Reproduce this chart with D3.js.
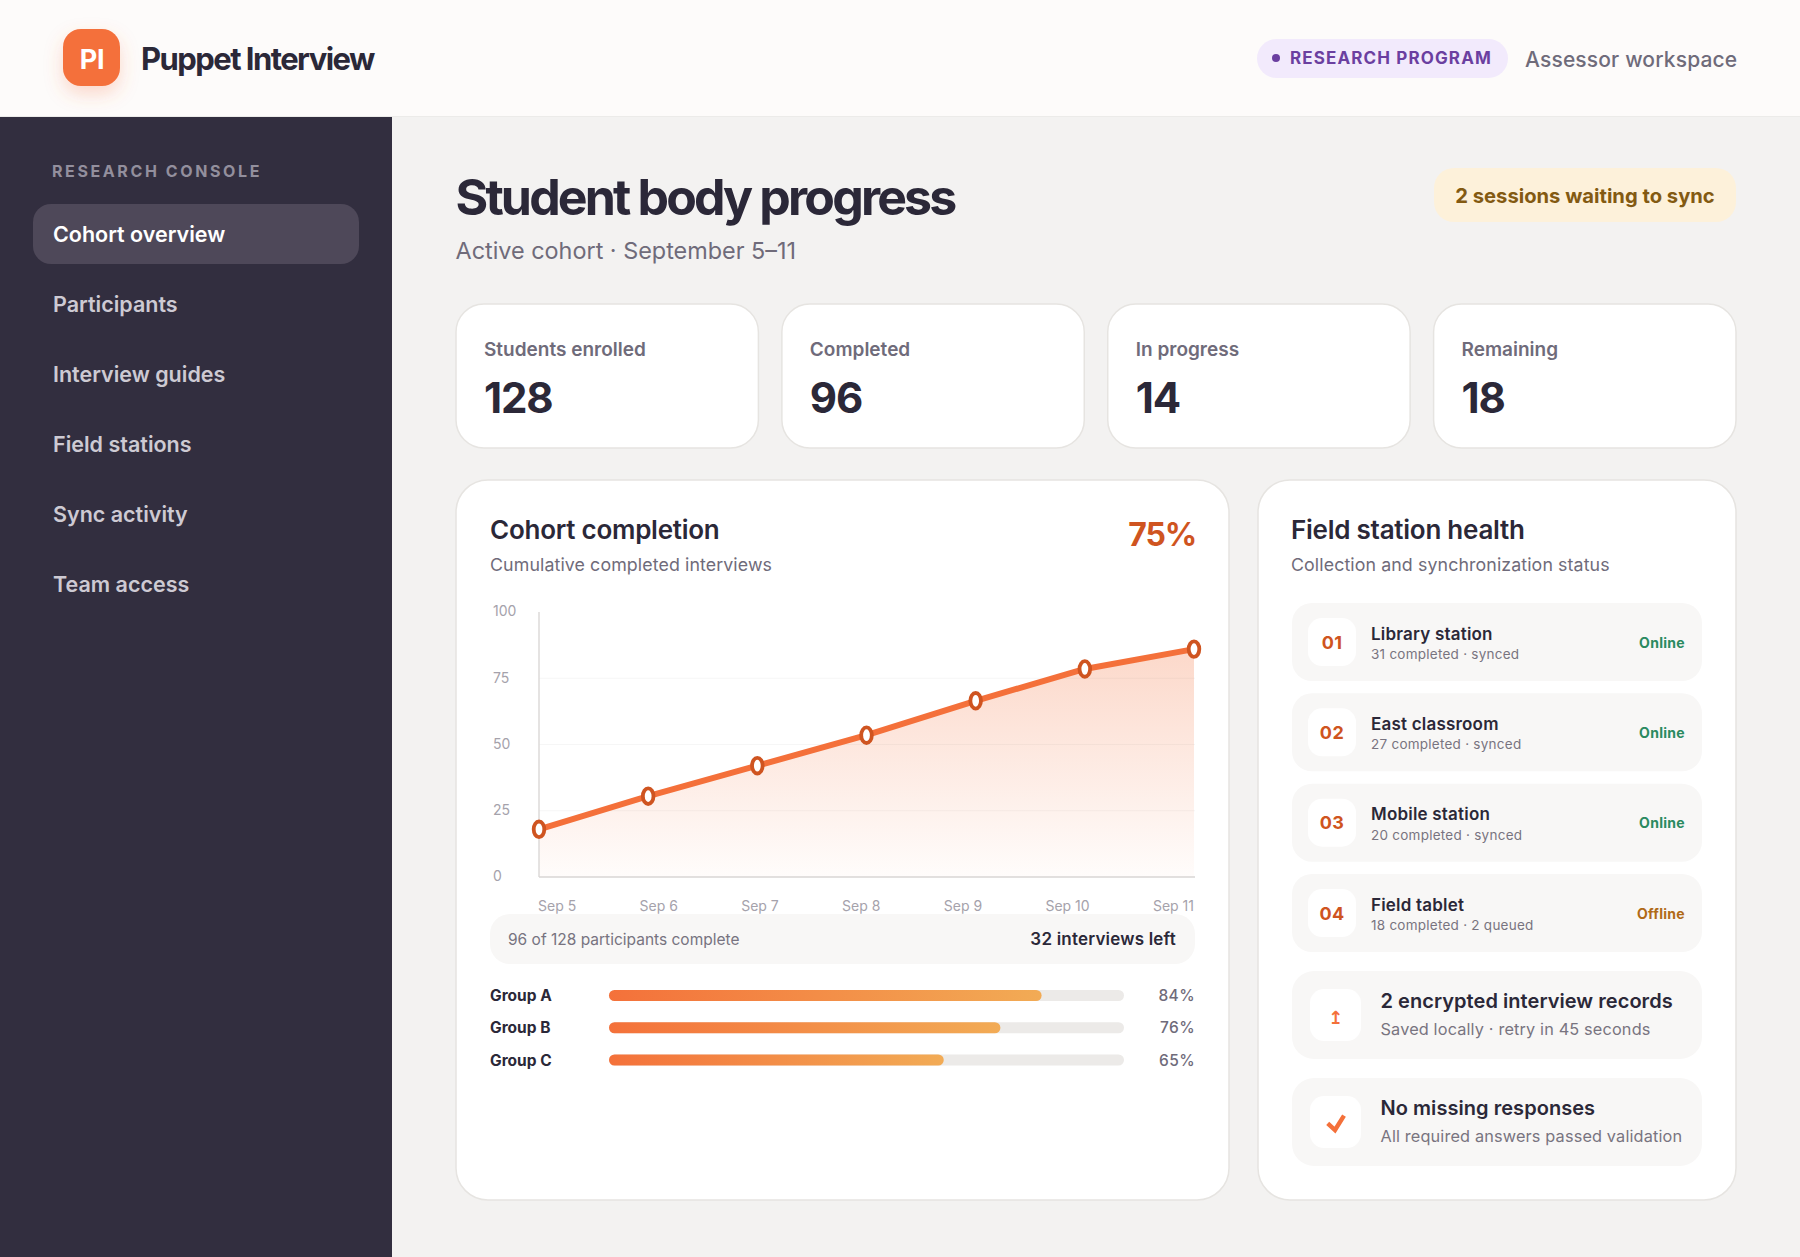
<!DOCTYPE html>
<html>
<head>
<meta charset="utf-8">
<title>Puppet Interview</title>
<script src="https://cdn.jsdelivr.net/npm/d3@7"></script>
<style>
  html, body { margin: 0; padding: 0; background: #f3f2f1; overflow: hidden; }
  svg { display: block; font-family: Inter, "Noto Sans", sans-serif; }
</style>
</head>
<body>
<svg id="page" width="1800" height="1257"></svg>
<script>
// nav + top cards
const navItems = ['Cohort overview', 'Participants', 'Interview guides', 'Field stations', 'Sync activity', 'Team access'];
const kpiLabels = ['Students enrolled', 'Completed', 'In progress', 'Remaining'];
const kpiValues = [128, 96, 14, 18];

// cumulative completion chart
const days = ['Sep 5', 'Sep 6', 'Sep 7', 'Sep 8', 'Sep 9', 'Sep 10', 'Sep 11'];
const completed = [18, 30.5, 42, 53.5, 66.5, 78.5, 86];
const yTicks = [0, 25, 50, 75, 100];

// group bars
const groups = ['Group A', 'Group B', 'Group C'];
const groupPct = [84, 76, 65];

// field stations
const stationIds = ['01', '02', '03', '04'];
const stationNames = ['Library station', 'East classroom', 'Mobile station', 'Field tablet'];
const stationNotes = ['31 completed · synced', '27 completed · synced', '20 completed · synced', '18 completed · 2 queued'];
const stationStatus = ['Online', 'Online', 'Online', 'Offline'];

const noticeTitles = ['2 encrypted interview records', 'No missing responses'];
const noticeNotes = ['Saved locally · retry in 45 seconds', 'All required answers passed validation'];

const ink = '#2b2838', grey = '#6f6b7a', orange = '#f4703a', rust = '#cf5420';

const svg = d3.select('#page');
const defs = svg.append('defs');

const shadow = defs.append('filter').attr('id', 'logoShadow')
    .attr('x', '-50%').attr('y', '-50%').attr('width', '200%').attr('height', '200%');
shadow.append('feDropShadow').attr('dx', 0).attr('dy', 8).attr('stdDeviation', 9)
    .attr('flood-color', orange).attr('flood-opacity', 0.25);

const addText = (parent, str, x, y, size, weight, fill, spacing, anchor) => {
  return parent.append('text')
      .attr('x', x)
      .attr('y', y)
      .attr('font-size', size)
      .attr('font-weight', weight)
      .attr('fill', fill)
      .attr('letter-spacing', spacing || 0)
      .attr('text-anchor', anchor || 'start')
      .text(str);
};

const addBox = (parent, x, y, w, h, r, fill, stroke) => {
  return parent.append('rect')
      .attr('x', x).attr('y', y)
      .attr('width', w).attr('height', h)
      .attr('rx', r)
      .attr('fill', fill)
      .attr('stroke', stroke || 'none')
      .attr('stroke-width', stroke ? 1.5 : 0);
};

// page background, header, sidebar
svg.append('rect').attr('width', 1800).attr('height', 1257).attr('fill', '#f3f2f1');
svg.append('rect').attr('width', 1800).attr('height', 117).attr('fill', '#fdfbfa');
svg.append('rect').attr('y', 116).attr('width', 1800).attr('height', 1).attr('fill', '#ecebe9');
svg.append('rect').attr('y', 117).attr('width', 392).attr('height', 1140).attr('fill', '#322e3f');

addBox(svg, 63, 29, 57, 57, 18, orange).attr('filter', 'url(#logoShadow)');
addText(svg, 'PI', 92, 69, 27, 700, '#fff', -0.3, 'middle');
addText(svg, 'Puppet Interview', 141, 70, 31, 700, ink, -1.55);

addBox(svg, 1257, 39, 251, 39, 19.5, '#f2eafc');
svg.append('circle').attr('cx', 1276).attr('cy', 58).attr('r', 4).attr('fill', '#6b3fa0');
addText(svg, 'RESEARCH PROGRAM', 1290, 64, 17, 700, '#6b3fa0', 1.13);
addText(svg, 'Assessor workspace', 1525, 66.5, 21, 500, grey, 0.15);

addText(svg, 'RESEARCH CONSOLE', 52, 177, 16, 700, '#938f9d', 2.6);

const nav = svg.append('g').selectAll('g')
  .data(navItems)
  .join('g')
    .attr('transform', (d, i) => 'translate(0,' + (234 + i * 70) + ')');
nav.filter((d, i) => i === 0).append('rect')
    .attr('x', 33).attr('y', -30).attr('width', 326).attr('height', 60).attr('rx', 18)
    .attr('fill', '#4e4859');
nav.append('text')
    .attr('x', 53)
    .attr('y', 8)
    .attr('font-size', 21.5)
    .attr('font-weight', 600)
    .attr('fill', (d, i) => i === 0 ? '#fff' : '#cdcad3')
    .text((d) => d);

// heading
addText(svg, 'Student body progress', 455.5, 215, 50, 700, ink, -2.85);
addText(svg, 'Active cohort · September 5–11', 455.5, 259, 23.4, 400, grey);
addBox(svg, 1434, 168, 302, 54, 20, '#fdf1da');
addText(svg, '2 sessions waiting to sync', 1585, 202.5, 20.2, 700, '#835a12', 0, 'middle');

// kpi cards
const kpiX = d3.scaleBand().domain(kpiLabels).range([456, 1736]).paddingInner(0.072);
const kpi = svg.append('g').selectAll('g')
  .data(kpiLabels)
  .join('g')
    .attr('transform', (d) => 'translate(' + kpiX(d) + ',304)');
kpi.append('rect')
    .attr('width', kpiX.bandwidth())
    .attr('height', 144)
    .attr('rx', 28)
    .attr('fill', '#fff')
    .attr('stroke', '#e6e4e1')
    .attr('stroke-width', 1.5);
kpi.append('text')
    .attr('x', 28).attr('y', 52)
    .attr('font-size', 19).attr('font-weight', 600).attr('fill', grey)
    .text((d) => d);
kpi.append('text')
    .attr('x', 28).attr('y', 109)
    .attr('font-size', 42).attr('font-weight', 700).attr('letter-spacing', -1.2).attr('fill', ink)
    .text((d, i) => kpiValues[i]);

// main cards
addBox(svg, 456, 480, 773, 720, 32, '#fff', '#e6e4e1');
addBox(svg, 1258, 480, 478, 720, 32, '#fff', '#e6e4e1');

// cohort completion card
addText(svg, 'Cohort completion', 490, 539, 26, 600, ink, -0.25);
addText(svg, 'Cumulative completed interviews', 490, 570.5, 17.8, 400, grey, 0.1);
addText(svg, '75%', 1196, 546, 32, 700, rust, -1.2, 'end');

const x = d3.scalePoint().domain(days).range([539, 1194]);
const y = d3.scaleLinear().domain([0, 100]).range([877, 612]);

const areaFill = defs.append('linearGradient').attr('id', 'areaFill')
    .attr('gradientUnits', 'userSpaceOnUse')
    .attr('x1', 0).attr('x2', 0)
    .attr('y1', y(86)).attr('y2', y(0));
areaFill.append('stop').attr('offset', 0).attr('stop-color', orange).attr('stop-opacity', 0.27);
areaFill.append('stop').attr('offset', 1).attr('stop-color', orange).attr('stop-opacity', 0.02);

const points = days.map((d, i) => ({day: d, value: completed[i]}));

const area = d3.area()
    .x((d) => x(d.day))
    .y0(y(0))
    .y1((d) => y(d.value));
const line = d3.line()
    .x((d) => x(d.day))
    .y((d) => y(d.value));

svg.append('path').datum(points).attr('d', area).attr('fill', 'url(#areaFill)');

svg.append('g').selectAll('line')
  .data(yTicks.slice(1, 4))
  .join('line')
    .attr('x1', 539).attr('x2', 1195)
    .attr('y1', (d) => y(d)).attr('y2', (d) => y(d))
    .attr('stroke', '#2b2838').attr('stroke-opacity', 0.045);

svg.append('line').attr('x1', 539).attr('x2', 539).attr('y1', 612).attr('y2', 877)
    .attr('stroke', '#dcdad8').attr('stroke-width', 1.5);
svg.append('line').attr('x1', 539).attr('x2', 1195).attr('y1', 877).attr('y2', 877)
    .attr('stroke', '#d8d6d4').attr('stroke-width', 1.5);

const yAxis = svg.append('g')
    .attr('transform', 'translate(539,0)')
    .call(d3.axisLeft(y).tickValues(yTicks).tickSize(0).tickPadding(0));
yAxis.select('.domain').remove();
yAxis.selectAll('text')
    .attr('x', -46)
    .attr('dy', '0.27em')
    .attr('text-anchor', 'start')
    .attr('font-family', 'Inter')
    .attr('font-size', 14)
    .attr('fill', '#a5a2ab');

const xAxis = svg.append('g')
    .attr('transform', 'translate(0,901)')
    .call(d3.axisBottom(x).tickSize(0).tickPadding(0));
xAxis.select('.domain').remove();
xAxis.selectAll('text')
    .attr('font-family', 'Inter')
    .attr('font-size', 14)
    .attr('fill', '#a5a2ab');

// tick labels sit edge to edge with equal gaps, not under their points
const labelW = xAxis.selectAll('text').nodes().map((n) => n.getComputedTextLength());
const labelGap = (1194 - 538 - d3.sum(labelW)) / (days.length - 1);
let labelLeft = 538;
xAxis.selectAll('.tick').each(function(d, i) {
  d3.select(this).attr('transform', 'translate(' + (labelLeft + labelW[i] / 2) + ',0)');
  labelLeft += labelW[i] + labelGap;
});

svg.append('path').datum(points)
    .attr('d', line)
    .attr('fill', 'none')
    .attr('stroke', orange)
    .attr('stroke-width', 6)
    .attr('stroke-linejoin', 'round');

// markers are taller than wide in the reference
svg.append('g').selectAll('ellipse')
  .data(points)
  .join('ellipse')
    .attr('cx', (d) => x(d.day))
    .attr('cy', (d) => y(d.value))
    .attr('rx', 5.3)
    .attr('ry', 7.8)
    .attr('fill', '#fff')
    .attr('stroke', rust)
    .attr('stroke-width', 3.8);

addBox(svg, 490, 914, 705, 50, 20, '#f8f7f6');
addText(svg, '96 of 128 participants complete', 508, 945, 15.5, 400, '#777380', 0);
addText(svg, '32 interviews left', 1176, 945, 17, 600, ink, 0.2, 'end');

// group bars
const pctX = d3.scaleLinear().domain([0, 100]).range([609, 1124]);
const groupY = d3.scalePoint().domain(groups).range([995.5, 1060]);

const barFill = defs.append('linearGradient').attr('id', 'barFill');
barFill.append('stop').attr('offset', 0).attr('stop-color', '#f4713a');
barFill.append('stop').attr('offset', 1).attr('stop-color', '#f2ab55');

const groupRow = svg.append('g').selectAll('g')
  .data(groups)
  .join('g')
    .attr('transform', (d) => 'translate(0,' + groupY(d) + ')');
groupRow.append('text')
    .attr('x', 490).attr('y', 5.5)
    .attr('font-size', 15.5).attr('font-weight', 700).attr('fill', ink)
    .text((d) => d);
groupRow.append('rect')
    .attr('x', pctX(0)).attr('y', -5.5)
    .attr('width', pctX(100) - pctX(0)).attr('height', 11).attr('rx', 5.5)
    .attr('fill', '#eceae8');
groupRow.append('rect')
    .attr('x', pctX(0)).attr('y', -5.5)
    .attr('width', (d, i) => pctX(groupPct[i]) - pctX(0)).attr('height', 11).attr('rx', 5.5)
    .attr('fill', 'url(#barFill)');
groupRow.append('text')
    .attr('x', 1195).attr('y', 5.5)
    .attr('text-anchor', 'end')
    .attr('font-size', 15.5).attr('font-weight', 500).attr('letter-spacing', 0.4).attr('fill', grey)
    .text((d, i) => groupPct[i] + '%');

// field station card
addText(svg, 'Field station health', 1291, 539, 26, 600, ink, -0.25);
addText(svg, 'Collection and synchronization status', 1291, 570.5, 17.8, 400, grey, 0.1);

const rowY = d3.scalePoint().domain(stationIds).range([603, 874]);
const station = svg.append('g').selectAll('g')
  .data(stationIds)
  .join('g')
    .attr('transform', (d) => 'translate(1292,' + rowY(d) + ')');
station.append('rect')
    .attr('width', 410).attr('height', 78).attr('rx', 20)
    .attr('fill', '#f8f7f6');
station.append('rect')
    .attr('x', 16).attr('y', 15).attr('width', 48).attr('height', 48).attr('rx', 14)
    .attr('fill', '#fff');
station.append('text')
    .attr('x', 40).attr('y', 45.5)
    .attr('text-anchor', 'middle')
    .attr('font-size', 18).attr('font-weight', 700).attr('fill', rust).attr('letter-spacing', 0.4)
    .text((d) => d);
station.append('text')
    .attr('x', 79).attr('y', 36.5)
    .attr('font-size', 17).attr('font-weight', 600).attr('letter-spacing', 0.2).attr('fill', ink)
    .text((d, i) => stationNames[i]);
station.append('text')
    .attr('x', 79).attr('y', 56)
    .attr('font-size', 13.5).attr('letter-spacing', 0.25).attr('fill', '#787480')
    .text((d, i) => stationNotes[i]);
station.append('text')
    .attr('x', 393).attr('y', 44.5)
    .attr('text-anchor', 'end')
    .attr('font-size', 14).attr('font-weight', 700).attr('letter-spacing', 0.3)
    .attr('fill', (d, i) => stationStatus[i] === 'Online' ? '#2a8a5f' : '#b06a17')
    .text((d, i) => stationStatus[i]);

const noticeY = d3.scalePoint().domain(noticeTitles).range([971, 1078]);
const notice = svg.append('g').selectAll('g')
  .data(noticeTitles)
  .join('g')
    .attr('transform', (d) => 'translate(1292,' + noticeY(d) + ')');
notice.append('rect')
    .attr('width', 410).attr('height', 88).attr('rx', 22)
    .attr('fill', '#f8f7f6');
notice.append('rect')
    .attr('x', 18).attr('y', 18).attr('width', 51).attr('height', 52).attr('rx', 14)
    .attr('fill', '#fff');
notice.filter((d, i) => i === 0).append('text')
    .attr('x', 43.5).attr('y', 53)
    .attr('text-anchor', 'middle')
    .attr('font-size', 18)
    .attr('font-weight', 700).attr('fill', orange)
    .attr('font-family', 'DejaVu Sans')
    .text('↥');
notice.filter((d, i) => i === 1).append('path')
    .attr('transform', 'translate(43.5,44)')
    .attr('d', 'M-7.8,1.3L-0.5,8L8.5,-6.3')
    .attr('fill', 'none')
    .attr('stroke', orange)
    .attr('stroke-width', 4.4);
notice.append('text')
    .attr('x', 88.5).attr('y', 37)
    .attr('font-size', 20).attr('font-weight', 600).attr('letter-spacing', 0.05).attr('fill', ink)
    .text((d) => d);
notice.append('text')
    .attr('x', 88.5).attr('y', 64)
    .attr('font-size', 16.3).attr('letter-spacing', 0.15).attr('fill', '#787480')
    .text((d, i) => noticeNotes[i]);
</script>
</body>
</html>
